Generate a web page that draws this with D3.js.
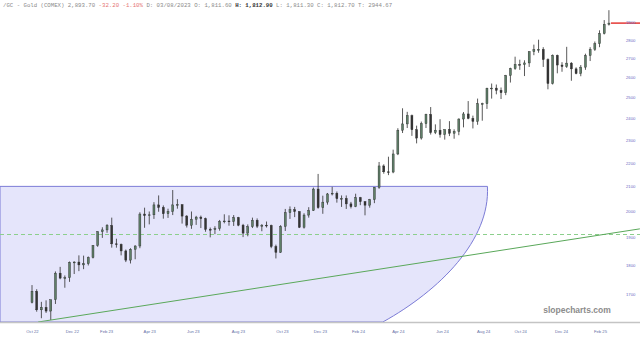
<!DOCTYPE html>
<html><head><meta charset="utf-8">
<script src="https://cdn.jsdelivr.net/npm/d3@7"></script>
<style>body{margin:0;background:#fff}svg{display:block}</style>
</head><body>
<svg id="c" width="640" height="338"></svg>
<script>
// Weekly OHLC of /GC, week 0 = week of 3 Oct 2022
const opens  = [1672,1709,1648,1656,1644,1681,1771,1754,1755,1809,1810,1800,1804,1826,1870,1921,1928,1945,1876,1874,1850,1817,1856,1868,1989,1983,1986,2025,2015,1990,1999,2025,2026,1981,1946,1969,1977,1971,1930,1929,1933,1960,1962,1960,1975,1946,1916,1940,1965,1942,1946,1945,1866,1845,1941,1994,2006,1999,1938,1985,2003,2089,2014,2036,2069,2072,2050,2051,2029,2018,2054,2038,2024,2046,2096,2186,2161,2160,2238,2345,2374,2413,2347,2309,2375,2419,2334,2345,2325,2349,2331,2339,2397,2421,2400,2386,2470,2470,2546,2547,2536,2524,2611,2646,2668,2667,2676,2736,2747,2748,2694,2570,2716,2665,2657,2675,2645,2621,2654,2715,2748,2779,2835,2887];
const highs  = [1730,1716,1674,1679,1681,1777,1793,1763,1812,1813,1834,1833,1830,1871,1923,1938,1950,1975,1895,1877,1855,1860,1871,1996,2014,1999,2036,2063,2023,2010,2085,2048,2027,1985,1999,1982,1983,1975,1937,1942,1966,1988,1984,1985,1978,1951,1949,1975,1972,1950,1960,1948,1873,1946,2009,2019,2017,1999,1992,2016,2095,2152,2062,2073,2098,2079,2063,2063,2037,2070,2057,2040,2049,2097,2203,2193,2226,2257,2354,2448,2431,2418,2366,2385,2422,2454,2372,2396,2342,2387,2349,2400,2430,2483,2413,2495,2475,2549,2570,2565,2550,2614,2651,2709,2693,2690,2738,2774,2801,2760,2700,2721,2720,2680,2762,2680,2653,2665,2725,2760,2791,2853,2911,2968];
const lows   = [1669,1642,1621,1638,1616,1667,1750,1721,1741,1768,1778,1785,1798,1823,1865,1898,1917,1862,1862,1834,1810,1805,1820,1860,1936,1949,1970,1998,1971,1974,1985,2010,1952,1937,1932,1947,1935,1921,1900,1912,1925,1953,1944,1943,1942,1901,1904,1935,1935,1923,1937,1860,1823,1843,1924,1970,1977,1935,1933,1975,2001,2010,1990,2026,2063,2034,2017,2009,2011,2016,2024,1984,2014,2032,2090,2153,2147,2155,2233,2332,2355,2319,2285,2302,2355,2325,2327,2311,2302,2318,2306,2322,2358,2396,2353,2370,2389,2445,2495,2516,2493,2512,2575,2640,2640,2608,2655,2717,2730,2655,2541,2565,2622,2630,2650,2584,2617,2607,2640,2686,2740,2760,2830,2880];
const closes = [1709,1648,1656,1644,1681,1771,1754,1755,1809,1810,1800,1804,1826,1870,1921,1928,1945,1876,1874,1850,1817,1856,1868,1989,1983,1986,2025,2015,1990,1999,2025,2026,1981,1946,1969,1977,1971,1930,1929,1933,1960,1962,1960,1975,1946,1916,1940,1965,1942,1946,1945,1866,1845,1941,1994,2006,1999,1938,1985,2003,2089,2014,2036,2069,2072,2050,2051,2029,2018,2054,2038,2024,2046,2096,2186,2161,2160,2238,2345,2374,2413,2347,2309,2375,2419,2334,2345,2325,2349,2331,2339,2397,2421,2400,2386,2470,2470,2546,2547,2536,2524,2611,2646,2668,2667,2676,2736,2747,2748,2694,2570,2716,2665,2657,2675,2645,2621,2654,2715,2748,2779,2835,2887,2893.7];

const priceTicks = [1700,1800,1900,2000,2100,2200,2300,2400,2500,2600,2700,2800,2900];
const monthLabels = ["Oct 22","Dec 22","Feb 23","Apr 23","Jun 23","Aug 23","Oct 23","Dec 23","Feb 24","Apr 24","Jun 24","Aug 24","Oct 24","Dec 24","Feb 25"];
const monthWeeks  = [0,8.5,15.8,25,34.3,43.9,53.3,61.4,69.5,78,87.4,96.2,104.1,112.8,121.1];

const headerParts = [
  {t:"/GC - Gold (COMEX) 2,893.70 ", c:"#8a8a8a", w:"normal"},
  {t:"-32.20 -1.10% ", c:"#e57373", w:"normal"},
  {t:"D: 03/08/2023 O: 1,811.60 ", c:"#8a8a8a", w:"normal"},
  {t:"H: 1,812.90 ", c:"#333", w:"bold"},
  {t:"L: 1,811.30 C: 1,812.70 T: 2944.67", c:"#8a8a8a", w:"normal"}
];

// annotations in data units (week index, price)
const zoneTopPrice = 2100;
const zoneRightWeek = 97.1;
const zoneCurve = [[97.7,1890],[87.0,1713],[74.8,null]]; // null = chart bottom
const dashedLevel = 1914;
const trendLine = [[1.3,null],[129.6,1932]];
const lastPrice = 2893.7;

const svg = d3.select("#c");
const W = 640, H = 338, plotBottom = 322;
const x = d3.scaleLinear().domain([0,121.1]).range([32,600]);
const y = d3.scaleLog().domain([1700,2900]).range([294,22]);
const bottomPrice = y.invert(plotBottom);
const py = p => p === null ? y(bottomPrice) : y(p);

// zone
const zp = d3.path();
zp.moveTo(0, y(zoneTopPrice));
zp.lineTo(x(zoneRightWeek), y(zoneTopPrice));
zp.bezierCurveTo(x(zoneCurve[0][0]), py(zoneCurve[0][1]), x(zoneCurve[1][0]), py(zoneCurve[1][1]), x(zoneCurve[2][0]), py(zoneCurve[2][1]));
zp.lineTo(0, y(bottomPrice));
zp.closePath();
svg.append("path").attr("d", zp.toString()).attr("fill","#e5e5fb").attr("stroke","#7b7bd6").attr("stroke-width",1);

// dashed level
const dy = Math.round(y(dashedLevel)) + 0.5;
svg.append("line").attr("x1",0).attr("x2",W).attr("y1",dy).attr("y2",dy)
  .attr("stroke","#8ccf8c").attr("stroke-width",1).attr("stroke-dasharray","4,3");

// trend line
svg.append("line").attr("x1",x(trendLine[0][0])).attr("y1",py(trendLine[0][1]))
  .attr("x2",x(trendLine[1][0])).attr("y2",py(trendLine[1][1]))
  .attr("stroke","#5aa85a").attr("stroke-width",1);

// candles
const data = closes.map((c,i)=>({i,o:opens[i],h:highs[i],l:lows[i],c}));
const bw = 2.0;
const g = svg.append("g");
g.selectAll("line.w").data(data).join("line").attr("class","w")
  .attr("x1",d=>x(d.i)).attr("x2",d=>x(d.i)).attr("y1",d=>y(d.h)).attr("y2",d=>y(d.l))
  .attr("stroke","#2e2e2e").attr("stroke-width",0.8);
g.selectAll("rect").data(data).join("rect")
  .attr("x",d=>x(d.i)-bw/2).attr("width",bw)
  .attr("y",d=>y(Math.max(d.o,d.c))).attr("height",d=>Math.max(0.8,Math.abs(y(d.o)-y(d.c))))
  .attr("fill",d=>d.c>=d.o?"#5f7f68":"#343434").attr("stroke","#2a2a2a").attr("stroke-width",0.4);

// last price line
svg.append("line").attr("x1",x(data.length-1)+2).attr("x2",W).attr("y1",y(lastPrice)).attr("y2",y(lastPrice))
  .attr("stroke","#e53935").attr("stroke-width",1.5);

// bottom rule
svg.append("rect").attr("x",0).attr("y",plotBottom).attr("width",W).attr("height",H-plotBottom).attr("fill","#fff");
svg.append("line").attr("x1",0).attr("x2",W).attr("y1",plotBottom+0.5).attr("y2",plotBottom+0.5).attr("stroke","#c4c4c4").attr("stroke-width",1.5);

// y axis
const ya = svg.append("g").attr("transform","translate(623,0)")
  .call(d3.axisRight(y).tickValues(priceTicks).tickSize(0).tickFormat(d3.format("d")));
ya.select(".domain").remove();
ya.selectAll("text").attr("font-family","Liberation Sans, Arial, sans-serif").attr("font-size",4.2).attr("fill","#6b6bc4").attr("dx",0);

// x axis
const xa = svg.append("g").attr("transform",`translate(0,${plotBottom+5})`)
  .call(d3.axisBottom(x).tickValues(monthWeeks).tickSize(0).tickFormat((d,i)=>monthLabels[i]));
xa.select(".domain").remove();
xa.selectAll("text").attr("font-family","Liberation Sans, Arial, sans-serif").attr("font-size",4.2).attr("fill","#6670a6");

// watermark
svg.append("text").attr("x",577).attr("y",313).attr("text-anchor","middle")
  .attr("font-family","Liberation Sans, Arial, sans-serif").attr("font-weight","bold").attr("font-size",8.5).attr("fill","#8c8c8c")
  .text("slopecharts.com");

// header
const ht = svg.append("text").attr("x",3).attr("y",7).attr("font-family","Liberation Mono, DejaVu Sans Mono, monospace").attr("font-size",5.7).attr("style","white-space:pre");
ht.selectAll("tspan").data(headerParts).join("tspan").attr("fill",d=>d.c).attr("font-weight",d=>d.w).text(d=>d.t);
</script>
</body></html>
